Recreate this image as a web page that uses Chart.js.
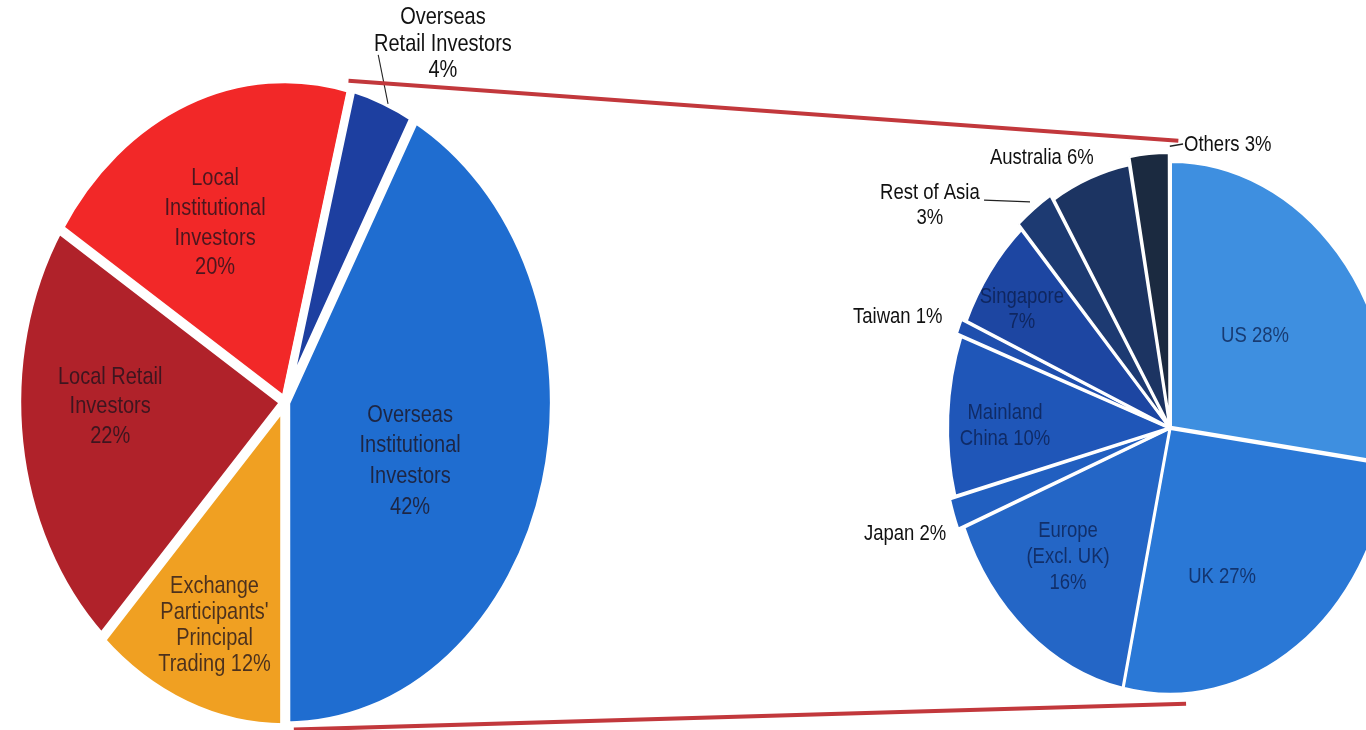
<!DOCTYPE html>
<html>
<head>
<meta charset="utf-8">
<title>Turnover by investor type</title>
<script src="https://cdn.jsdelivr.net/npm/chart.js@4.4.1/dist/chart.umd.min.js"></script>
<style>
  html, body { margin: 0; padding: 0; background: #fff; overflow: hidden; }
  #wrap { position: relative; width: 1366px; height: 730px; }
  #wrap canvas { position: absolute; left: 0; top: 0; }
</style>
</head>
<body>
<div id="wrap">
  <canvas id="mainPie" width="1366" height="730"></canvas>
  <canvas id="subPie" width="1366" height="730"></canvas>
</div>
<script>
// ================= DATA =================

const mainLabels = ["Overseas Institutional Investors", "Exchange Participants' Principal Trading",
  "Local Retail Investors", "Local Institutional Investors", "Overseas Retail Investors"];
const mainValues = [42, 12, 22, 20, 4];

const subLabels = ["US", "UK", "Europe (Excl. UK)", "Japan", "Mainland China",
  "Taiwan", "Singapore", "Rest of Asia", "Australia", "Others"];
const subValues = [28, 27, 16, 2, 10, 1, 7, 3, 6, 3];

// ================= STYLE / LABEL LAYOUT =================

const mainColors = ["#1f6dd0", "#f0a022", "#b0222a", "#f22828", "#1d3fa0"];
const subColors = ["#3e8fe0", "#2a78d6", "#2466c6", "#215fc0", "#1f56b8",
  "#1f4fae", "#1d46a2", "#1d3a72", "#1c3462", "#1b2a40"];

// f = fraction of the radius, da = angle shift (deg) from the slice middle, "|" = line break
const mainLayout = [
  { text: "Overseas|Institutional|Investors|{v}%", f: 0.503, da: 6.9, lh: 25.4 },
  { text: "Exchange|Participants'|Principal|Trading {v}%", f: 0.74, da: -0.7, lh: 21.6 },
  { text: "Local Retail|Investors|{v}%", f: 0.655, da: 5.9, lh: 24.2 },
  { text: "Local|Institutional|Investors|{v}%", f: 0.613, da: -3.7, lh: 24.6 },
  { text: "Overseas|Retail Investors|{v}%", f: 1.256, da: 6.5, lh: 21.7, outside: true,
    leader: [1.0, 1.1, 1.13, -3.6] }
];

const subLayout = [
  { text: "US {v}%", f: 0.517, da: -1 },
  { text: "UK {v}%", f: 0.608, da: 12.2 },
  { text: "Europe|(Excl. UK)|{v}%", f: 0.669, da: 3.3 },
  { text: "Japan {v}%", f: 1.26, da: 0, outside: true },
  { text: "Mainland|China {v}%", f: 0.745, da: -2.1 },
  { text: "Taiwan {v}%", f: 1.298, da: -3.1, outside: true },
  { text: "Singapore|{v}%", f: 0.804, da: -2.1 },
  { text: "Rest of Asia|{v}%", f: 1.37, da: -15.6, outside: true, leader: [1.06, 0.1, 1.2, -7.7] },
  { text: "Australia {v}%", f: 1.169, da: -8.7, outside: true },
  { text: "Others {v}%", f: 1.096, da: 19, outside: true, leader: [1.06, 5.2, 1.07, 8.4] }
];

const FONT = '"Liberation Sans", Arial, sans-serif';
const DEG = Math.PI / 180;

// ================= PLUGINS =================

// squashes the pie into an ellipse and writes the slice labels inside the same transform
function squashedPie(sy, layout, values, fontSize, lineHeight, innerColor) {
  return {
    id: "squashedPie",
    beforeDatasetsDraw(chart) {
      const arc = chart.getDatasetMeta(0).data[0];
      const ctx = chart.ctx;
      ctx.save();
      ctx.translate(arc.x, arc.y);
      ctx.scale(1, sy);
      ctx.translate(-arc.x, -arc.y);
    },
    afterDatasetsDraw(chart) {
      const ctx = chart.ctx;
      const arcs = chart.getDatasetMeta(0).data;
      ctx.textAlign = "center";
      ctx.textBaseline = "middle";
      ctx.font = fontSize + "px " + FONT;

      arcs.forEach(function (arc, i) {
        const spec = layout[i];
        const mid = (arc.startAngle + arc.endAngle) / 2;
        const R = arc.outerRadius;
        const pt = function (f, da) {
          const a = mid + da * DEG;
          return { x: arc.x + f * R * Math.cos(a), y: arc.y + f * R * Math.sin(a) };
        };

        if (spec.leader) {
          const p1 = pt(spec.leader[0], spec.leader[1]);
          const p2 = pt(spec.leader[2], spec.leader[3]);
          ctx.strokeStyle = "#222";
          ctx.lineWidth = 1.1;
          ctx.beginPath();
          ctx.moveTo(p1.x, p1.y);
          ctx.lineTo(p2.x, p2.y);
          ctx.stroke();
        }

        const lines = spec.text.replace("{v}", values[i]).split("|");
        const lh = spec.lh || lineHeight;
        const c = pt(spec.f, spec.da);
        ctx.fillStyle = spec.outside ? "#111" : innerColor;
        lines.forEach(function (line, k) {
          ctx.fillText(line, c.x, c.y + (k - (lines.length - 1) / 2) * lh);
        });
      });
      ctx.restore();
    }
  };
}

// corner of a slice on the squashed outline, offset included
function sliceCorner(chart, sy, index, which) {
  const arc = chart.getDatasetMeta(0).data[index];
  const a = which === "start" ? arc.startAngle : arc.endAngle;
  const mid = (arc.startAngle + arc.endAngle) / 2;
  const off = arc.options.offset || 0;
  const x = arc.x + arc.outerRadius * Math.cos(a) + off * Math.cos(mid);
  const y = arc.y + (arc.outerRadius * Math.sin(a) + off * Math.sin(mid)) * sy;
  return { x: x, y: y };
}

function outlinePoint(chart, sy, angleDeg, f) {
  const arc = chart.getDatasetMeta(0).data[0];
  const a = (angleDeg - 90) * DEG;
  return { x: arc.x + f * arc.outerRadius * Math.cos(a), y: arc.y + f * arc.outerRadius * Math.sin(a) * sy };
}

// ================= MAIN PIE =================

const MAIN_SY = 1.21;
const SUB_SY = 1.2;

const mainChart = new Chart(document.getElementById("mainPie"), {
  type: "pie",
  data: {
    labels: mainLabels,
    datasets: [{
      data: mainValues,
      backgroundColor: mainColors,
      borderColor: "#ffffff",
      borderWidth: 8,
      borderJoinStyle: "round",
      offset: [5, 8, 3, 2, 3],
      clip: false
    }]
  },
  options: {
    responsive: false,
    animation: false,
    events: [],
    rotation: 28.8,
    radius: 267,
    layout: { padding: { left: 15, right: 811, top: 132, bottom: 58 } },
    plugins: { legend: { display: false }, tooltip: { enabled: false } }
  },
  plugins: [squashedPie(MAIN_SY, mainLayout, mainValues, 20, 24, "rgba(30,18,28,0.78)")]
});

// ================= BREAKDOWN PIE =================

const connectors = {
  id: "connectors",
  afterDraw(chart) {
    const ctx = chart.ctx;
    const topA = sliceCorner(mainChart, MAIN_SY, 4, "start");
    const topB = sliceCorner(chart, SUB_SY, 9, "end");
    const botA = sliceCorner(mainChart, MAIN_SY, 0, "end");
    const botB = outlinePoint(chart, SUB_SY, 176, 1.04);
    ctx.save();
    ctx.strokeStyle = "#c2383c";
    ctx.lineWidth = 4;
    ctx.beginPath();
    ctx.moveTo(topA.x - 4, topA.y - 5);
    ctx.lineTo(topB.x + 10, topB.y);
    ctx.moveTo(botA.x + 4, botA.y + 3);
    ctx.lineTo(botB.x, botB.y);
    ctx.stroke();
    ctx.restore();
  }
};

new Chart(document.getElementById("subPie"), {
  type: "pie",
  data: {
    labels: subLabels,
    datasets: [{
      data: subValues,
      backgroundColor: subColors,
      borderColor: "#ffffff",
      borderWidth: 2.5,
      offset: [4, 2, 2, 14, 2, 12, 2, 14, 4, 18],
      clip: false
    }]
  },
  options: {
    responsive: false,
    animation: false,
    events: [],
    rotation: 0,
    radius: 221.5,
    layout: { padding: { left: 974, right: 0, top: 232, bottom: 106 } },
    plugins: { legend: { display: false }, tooltip: { enabled: false } }
  },
  plugins: [squashedPie(SUB_SY, subLayout, subValues, 18.5, 21.5, "rgba(10,26,70,0.72)"), connectors]
});
</script>
</body>
</html>
